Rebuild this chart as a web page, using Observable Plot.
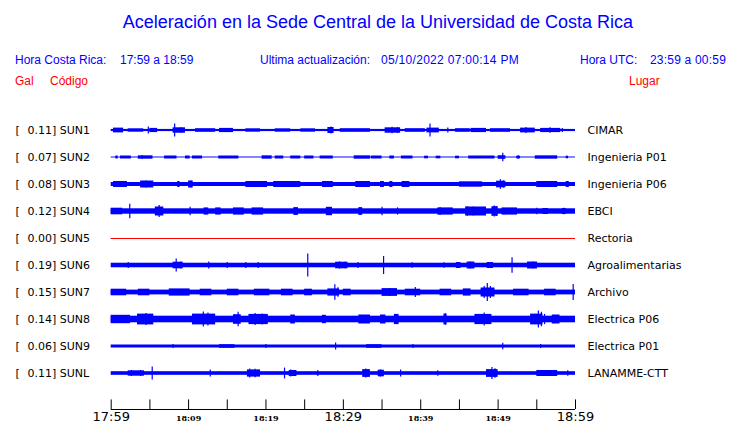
<!DOCTYPE html>
<html>
<head>
<meta charset="utf-8">
<script src="https://cdn.jsdelivr.net/npm/d3@7"></script>
<script src="https://cdn.jsdelivr.net/npm/@observablehq/plot@0.6"></script>
<style>
  body { margin: 0; background: #fff; }
  #hdr { position: relative; width: 740px; height: 100px; font-family: "Liberation Sans", Arial, sans-serif; }
  #hdr div { position: absolute; white-space: pre; line-height: 1; }
  .blue { color: #0000ff; }
  .red { color: #ff0000; }
</style>
</head>
<body>
<div id="hdr">
  <div class="blue" style="left:0;width:740px;text-align:center;top:13px;font-size:18px;padding-left:16px;box-sizing:border-box;">Aceleración en la Sede Central de la Universidad de Costa Rica</div>
  <div class="blue" style="left:15px;top:54px;font-size:12px;">Hora Costa Rica:</div>
  <div class="blue" style="left:120px;top:54px;font-size:12px;">17:59 a 18:59</div>
  <div class="blue" style="left:260px;top:54px;font-size:12px;">Ultima actualización:</div>
  <div class="blue" style="left:381px;top:54px;font-size:12px;letter-spacing:0.3px;">05/10/2022 07:00:14 PM</div>
  <div class="blue" style="left:580px;top:54px;font-size:12px;">Hora UTC:</div>
  <div class="blue" style="left:650px;top:54px;font-size:12px;letter-spacing:0.2px;">23:59 a 00:59</div>
  <div class="red" style="left:15px;top:75px;font-size:12px;">Gal</div>
  <div class="red" style="left:50px;top:75px;font-size:12px;">Código</div>
  <div class="red" style="left:629px;top:75px;font-size:12px;">Lugar</div>
</div>
<div id="chart"></div>
<script>
const stations = ["SUN1","SUN2","SUN3","SUN4","SUN5","SUN6","SUN7","SUN8","SUN9","SUNL"];
const peaks = [0.11, 0.07, 0.08, 0.12, 0.00, 0.19, 0.15, 0.14, 0.06, 0.11];
const places = ["CIMAR","Ingenieria P01","Ingenieria P06","EBCI","Rectoria","Agroalimentarias","Archivo","Electrica P06","Electrica P01","LANAMME-CTT"];
// background noise half-amplitude (Gal) per trace
const noise = [0.018, 0.008, 0.033, 0.045, 0, 0.038, 0.04, 0.055, 0.025, 0.03];

// elevated-amplitude windows: station, start minute, end minute, half-amplitude (Gal)
const bursts = [
  ["SUN1",0.3,1.6,0.04],["SUN1",2.2,4.2,0.028],["SUN1",5.0,6.0,0.035],["SUN1",8.0,9.6,0.045],["SUN1",10.9,13.5,0.03],
  ["SUN1",14.0,15.8,0.035],["SUN1",17.4,19.3,0.028],["SUN1",21.2,23.2,0.028],["SUN1",24.5,26.4,0.028],["SUN1",28.0,28.8,0.05],
  ["SUN1",29.6,33.5,0.03],["SUN1",35.4,37.4,0.045],["SUN1",38.0,40.6,0.03],["SUN1",40.8,42.4,0.04],["SUN1",44.5,46.4,0.03],
  ["SUN1",46.5,48.5,0.035],["SUN1",49.0,51.6,0.03],["SUN1",52.9,54.8,0.04],["SUN1",55.5,58.1,0.035],
  ["SUN2",0.6,0.9,0.025],["SUN2",1.2,2.6,0.025],["SUN2",3.5,5.4,0.028],["SUN2",6.9,8.5,0.025],["SUN2",9.6,10.2,0.025],
  ["SUN2",10.5,11.8,0.025],["SUN2",13.9,16.5,0.025],["SUN2",19.5,20.8,0.028],["SUN2",21.2,22.3,0.025],["SUN2",23.2,24.5,0.025],
  ["SUN2",25.0,26.2,0.025],["SUN2",27.0,28.7,0.025],["SUN2",31.4,33.5,0.028],["SUN2",33.6,35.0,0.025],["SUN2",36.0,36.6,0.025],
  ["SUN2",37.5,39.0,0.025],["SUN2",40.5,41.0,0.022],["SUN2",42.0,42.6,0.022],["SUN2",44.5,45.0,0.022],["SUN2",46.2,49.6,0.025],
  ["SUN2",50.0,51.0,0.03],["SUN2",52.4,52.9,0.022],["SUN2",54.8,57.7,0.028],["SUN2",58.8,59.1,0.022],
  ["SUN3",0.3,2.1,0.05],["SUN3",3.8,5.5,0.058],["SUN3",8.6,8.9,0.05],["SUN3",10.0,10.6,0.058],["SUN3",17.4,20.2,0.05],
  ["SUN3",21.0,24.5,0.05],["SUN3",27.3,28.7,0.05],["SUN3",31.6,33.5,0.05],["SUN3",34.8,35.3,0.05],["SUN3",36.0,36.4,0.05],
  ["SUN3",37.6,38.6,0.05],["SUN3",45.0,48.0,0.045],["SUN3",49.8,51.0,0.055],["SUN3",55.0,57.7,0.05],["SUN3",58.8,59.2,0.05],
  ["SUN4",0.0,1.5,0.055],["SUN4",5.7,6.8,0.075],["SUN4",12.0,12.6,0.06],["SUN4",13.5,14.2,0.06],["SUN4",15.8,17.2,0.06],
  ["SUN4",18.2,19.7,0.06],["SUN4",23.6,24.2,0.065],["SUN4",27.8,28.6,0.07],["SUN4",32.0,32.5,0.065],["SUN4",42.2,44.2,0.06],
  ["SUN4",45.8,48.5,0.075],["SUN4",49.2,50.0,0.08],["SUN4",50.5,52.5,0.06],["SUN4",55.8,56.5,0.05],["SUN4",58.3,58.8,0.05],
  ["SUN6",8.0,9.3,0.055],["SUN6",29.0,30.6,0.055],["SUN6",44.6,45.2,0.05],["SUN6",46.0,47.0,0.058],["SUN6",48.6,49.4,0.05],
  ["SUN6",53.8,55.1,0.058],
  ["SUN7",0.0,2.0,0.055],["SUN7",3.5,5.0,0.055],["SUN7",7.5,10.2,0.06],["SUN7",11.5,13.0,0.055],["SUN7",15.0,16.5,0.055],
  ["SUN7",18.5,20.5,0.055],["SUN7",22.0,23.5,0.055],["SUN7",25.0,26.0,0.055],["SUN7",28.0,29.5,0.06],["SUN7",30.0,31.0,0.055],
  ["SUN7",35.0,37.0,0.065],["SUN7",38.0,40.0,0.055],["SUN7",42.5,44.0,0.055],["SUN7",45.5,46.5,0.06],["SUN7",47.8,49.6,0.075],
  ["SUN7",52.0,54.0,0.055],["SUN7",56.0,57.5,0.055],
  ["SUN8",0.0,2.5,0.07],["SUN8",3.4,5.5,0.09],["SUN8",10.5,13.5,0.09],["SUN8",15.8,16.8,0.08],["SUN8",17.8,20.3,0.085],
  ["SUN8",23.2,23.8,0.075],["SUN8",27.3,27.8,0.07],["SUN8",32.0,33.5,0.075],["SUN8",34.8,35.5,0.075],["SUN8",36.6,37.2,0.085],
  ["SUN8",43.0,43.4,0.09],["SUN8",47.0,49.2,0.085],["SUN8",54.2,55.8,0.09],["SUN8",57.0,58.0,0.075],
  ["SUN9",14.0,16.0,0.03],["SUN9",33.0,35.0,0.03],
  ["SUNL",2.2,4.3,0.045],["SUNL",17.6,19.3,0.06],["SUNL",23.0,24.0,0.05],["SUNL",32.5,33.5,0.065],["SUNL",34.5,35.3,0.055],
  ["SUNL",48.5,50.0,0.065],["SUNL",55.0,57.7,0.05]
];

// individual peaks: station, minute, half-amplitude (Gal)
const spikes = [
  ["SUN1",4.8,0.06],["SUN1",8.2,0.11],["SUN1",9.0,0.045],["SUN1",28.4,0.06],["SUN1",36.3,0.055],["SUN1",37.0,0.05],
  ["SUN1",41.2,0.11],["SUN1",43.5,0.04],["SUN1",53.6,0.05],["SUN1",56.7,0.045],["SUN1",58.3,0.035],
  ["SUN2",50.6,0.07],["SUN2",52.6,0.03],["SUN2",4.0,0.03],
  ["SUN3",4.5,0.06],["SUN3",50.3,0.08],["SUN3",50.7,0.06],["SUN3",10.3,0.06],
  ["SUN4",2.4,0.12],["SUN4",6.2,0.1],["SUN4",10.2,0.07],["SUN4",35.0,0.07],["SUN4",37.0,0.06],["SUN4",42.5,0.065],
  ["SUN4",46.0,0.08],["SUN4",46.8,0.075],["SUN4",49.5,0.09],["SUN4",49.8,0.08],["SUN4",55.0,0.055],["SUN4",58.5,0.055],
  ["SUN6",2.2,0.05],["SUN6",8.4,0.11],["SUN6",9.0,0.06],["SUN6",12.6,0.06],["SUN6",15.0,0.05],["SUN6",17.4,0.05],
  ["SUN6",19.0,0.05],["SUN6",25.4,0.19],["SUN6",29.5,0.06],["SUN6",30.2,0.055],["SUN6",31.9,0.05],["SUN6",35.2,0.15],
  ["SUN6",38.9,0.045],["SUN6",43.0,0.045],["SUN6",44.9,0.05],["SUN6",46.4,0.06],["SUN6",49.0,0.05],["SUN6",51.8,0.13],
  ["SUN6",54.5,0.06],
  ["SUN7",28.9,0.13],["SUN7",29.3,0.08],["SUN7",36.0,0.065],["SUN7",39.3,0.085],["SUN7",48.2,0.1],["SUN7",48.6,0.15],
  ["SUN7",49.0,0.1],["SUN7",59.7,0.135],
  ["SUN8",4.5,0.1],["SUN8",11.9,0.125],["SUN8",12.5,0.11],["SUN8",16.4,0.12],["SUN8",18.6,0.1],["SUN8",19.5,0.09],
  ["SUN8",43.2,0.095],["SUN8",48.2,0.11],["SUN8",55.2,0.14],["SUN8",55.6,0.12],["SUN8",56.0,0.085],
  ["SUN9",8.0,0.035],["SUN9",20.0,0.035],["SUN9",29.0,0.06],["SUN9",39.0,0.035],["SUN9",50.6,0.055],["SUN9",55.5,0.035],
  ["SUNL",2.6,0.05],["SUNL",3.8,0.05],["SUNL",5.3,0.11],["SUNL",12.8,0.06],["SUNL",17.9,0.075],["SUNL",18.6,0.07],
  ["SUNL",22.4,0.09],["SUNL",23.2,0.06],["SUNL",26.7,0.05],["SUNL",32.9,0.075],["SUNL",34.8,0.06],["SUNL",37.4,0.06],
  ["SUNL",42.2,0.045],["SUNL",49.2,0.1],["SUNL",49.6,0.08],["SUNL",56.0,0.05],["SUNL",59.0,0.045]
];

const tickMinutes = [0,5,10,15,20,25,30,35,40,45,50,55,60];
const labelMinutes = [0,10,20,30,40,50,60];
const labelTexts = ["17:59","18:09","18:19","18:29","18:39","18:49","18:59"];
const labelMajor = [true,false,false,true,false,false,true];

const spacing = 0.45; // Gal between trace baselines
const off = s => -stations.indexOf(s) * spacing;
const rows = stations.map((s, i) => ({s, peak: peaks[i], place: places[i], noise: noise[i]}));
const blueRows = rows.filter(d => d.noise > 0);
const redRows = rows.filter(d => d.noise === 0);
const burstData = bursts.map(([s, t0, t1, a]) => ({s, t0, t1, a}));
const spikeData = spikes.map(([s, t, a]) => ({s, t, a}));
const axisY = -4.65;
const labels = labelMinutes.map((m, i) => ({m, text: labelTexts[i], major: labelMajor[i]}));
const BLUE = "#0000ff";

const chart = Plot.plot({
  width: 740,
  height: 323,
  margin: 0,
  x: {domain: [0, 60], range: [110.7, 575], axis: null},
  y: {domain: [-4.05, 0], range: [273, 30], axis: null},
  style: {fontFamily: "DejaVu Sans", fontSize: "11px", color: "#000", background: "#fff", overflow: "visible"},
  marks: [
    Plot.rect(blueRows, {x1: 0, x2: 60, y1: d => off(d.s) - d.noise, y2: d => off(d.s) + d.noise, fill: BLUE}),
    Plot.ruleY(redRows, {x1: 0, x2: 60, y: d => off(d.s), stroke: "#ff0000", strokeWidth: 1.2}),
    Plot.rect(burstData, {x1: "t0", x2: "t1", y1: d => off(d.s) - d.a, y2: d => off(d.s) + d.a, fill: BLUE}),
    Plot.ruleX(spikeData, {x: "t", y1: d => off(d.s) - d.a, y2: d => off(d.s) + d.a, stroke: BLUE, strokeWidth: 1.2}),
    Plot.text(rows, {x: 0, y: d => off(d.s), text: () => "[", dx: -95.7, textAnchor: "start", fill: "#000"}),
    Plot.text(rows, {x: 0, y: d => off(d.s), text: d => d.peak.toFixed(2) + "] " + d.s, dx: -83.7, textAnchor: "start", fill: "#000"}),
    Plot.text(rows, {x: 60, y: d => off(d.s), text: "place", dx: 12, textAnchor: "start", fill: "#000"}),
    Plot.ruleY([axisY], {x1: 0, x2: 60, stroke: "#000", strokeWidth: 1}),
    Plot.ruleX(tickMinutes, {x: d => d, y1: axisY, y2: axisY + 0.16, stroke: "#000", strokeWidth: 1}),
    Plot.text(labels.filter(d => d.major), {x: "m", y: axisY, text: "text", dy: 2, lineAnchor: "top", fontSize: 13, fill: "#000"}),
    Plot.text(labels.filter(d => !d.major), {x: "m", y: axisY, text: "text", dy: 6, lineAnchor: "top", fontSize: 8, fontFamily: "DejaVu Serif", fontWeight: "bold", fill: "#000"})
  ]
});
document.getElementById("chart").appendChild(chart);
</script>
</body>
</html>
